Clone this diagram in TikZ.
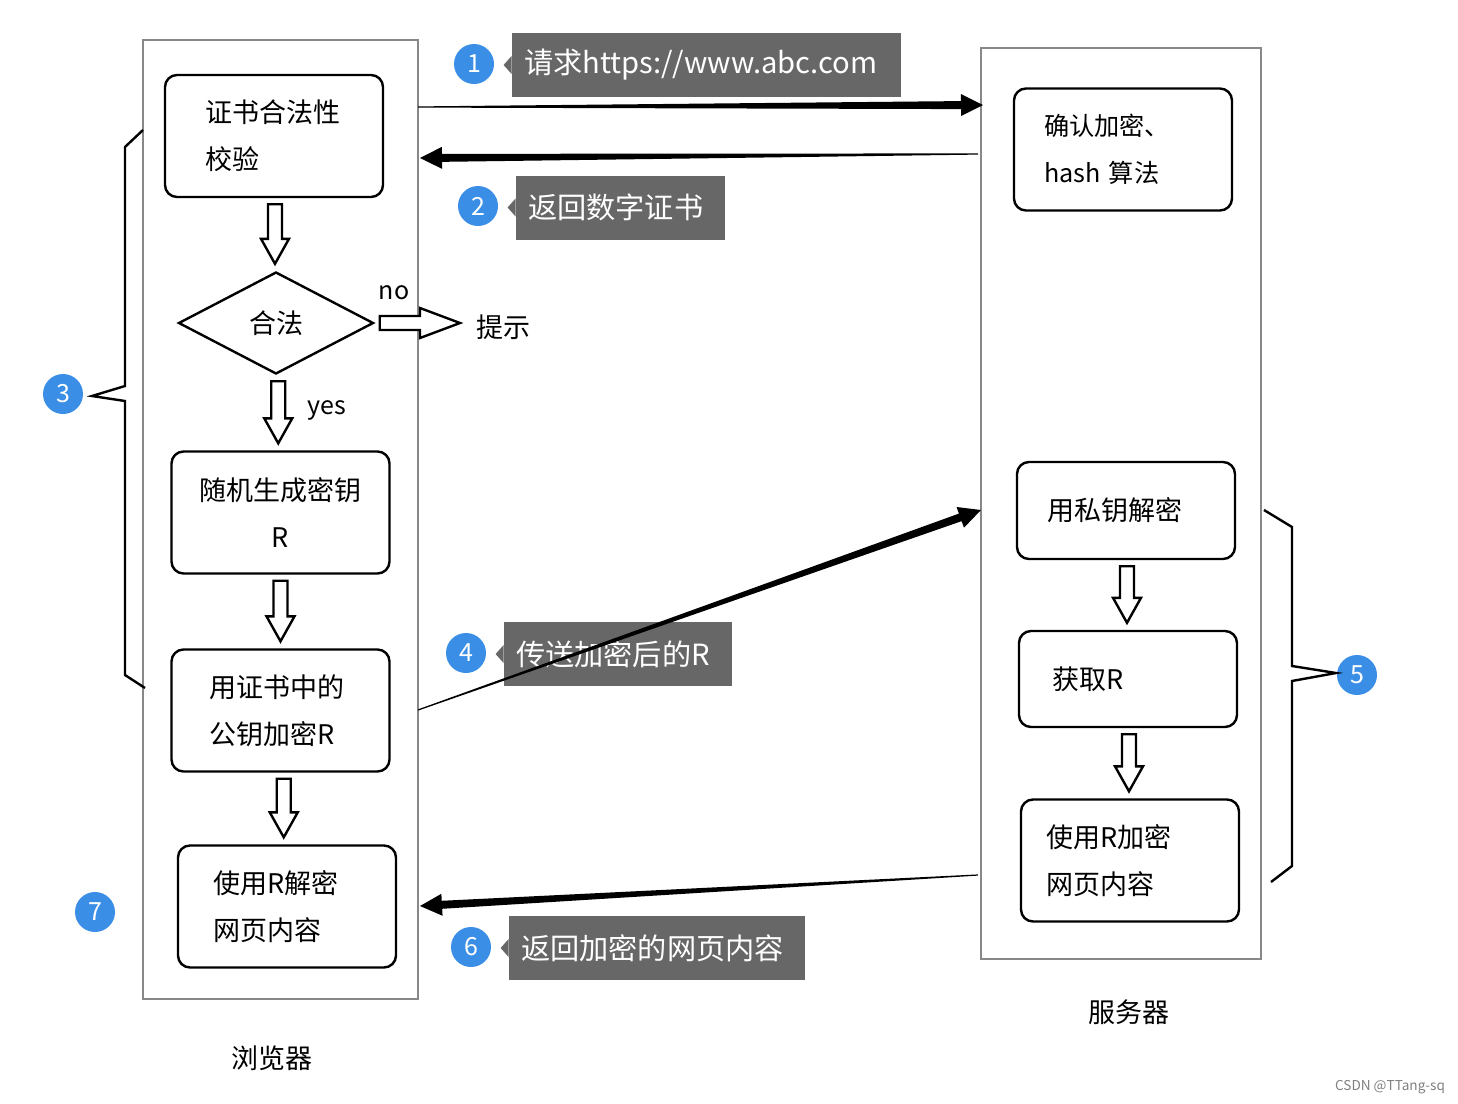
\documentclass[tikz,border=0pt]{standalone}
\usepackage{fontspec}
\setmainfont{Noto Sans CJK SC}
\usepackage{tikz}
\usetikzlibrary{calc}
\usetikzlibrary{shapes.geometric}

\definecolor{framegray}{RGB}{136,136,136}
\definecolor{taggray}{RGB}{103,103,103}
\definecolor{badgeblue}{RGB}{58,142,230}

\newcommand\taperline[2]{%
  \coordinate (tp) at ($(#2)!11pt!(#1)$);
  \fill ($(#1)!0.3pt!90:(#2)$) -- ($(tp)!2pt!-90:(#1)$) -- ($(tp)!5.5pt!-90:(#1)$) -- (#2)
    -- ($(tp)!5.5pt!90:(#1)$) -- ($(tp)!2pt!90:(#1)$) -- ($(#1)!0.3pt!-90:(#2)$) -- cycle;}
\newcommand\blockdown[2]{%
  \draw[hollow] let \p1=(#1), \p2=(#2) in
    (0.5*\x1+0.5*\x2-3.5pt,\y1-3pt) -- (0.5*\x1+0.5*\x2-3.5pt,\y2+16pt) -- (0.5*\x1+0.5*\x2-7pt,\y2+16pt)
    -- (0.5*\x1+0.5*\x2,\y2+3.5pt) -- (0.5*\x1+0.5*\x2+7pt,\y2+16pt) -- (0.5*\x1+0.5*\x2+3.5pt,\y2+16pt)
    -- (0.5*\x1+0.5*\x2+3.5pt,\y1-3pt) -- cycle;}
\newcommand\blockright[2]{%
  \draw[hollow] let \p1=(#1), \p2=(#2) in
    (\x1+2.5pt,\y1+3.5pt) -- (\x2-28pt,\y1+3.5pt) -- (\x2-28pt,\y1+7.5pt) -- (\x2-8pt,\y1)
    -- (\x2-28pt,\y1-7.5pt) -- (\x2-28pt,\y1-3.5pt) -- (\x1+2.5pt,\y1-3.5pt) -- cycle;}

\begin{document}
\begin{tikzpicture}[x=0.5pt, y=-0.5pt,
    frame/.style={draw=framegray, line width=1.25pt, inner sep=0pt},
    box/.style 2 args={draw, line width=1.2pt, rounded corners=6pt, minimum height=61pt, align=left,
      inner xsep=#1, text width=#2, font=\fontsize{13.5}{23.5}\selectfont},
    check/.style={diamond, draw, line width=1.2pt, minimum width=97.5pt, minimum height=51pt, inner sep=0pt,
      font=\fontsize{13.5}{16}\selectfont},
    hollow/.style={draw, line width=1.2pt, fill=white, line join=miter},
    badge/.style={circle, fill=badgeblue, text=white, minimum size=20pt, inner sep=0pt, font=\fontsize{12.5}{13}\selectfont},
    tag/.style={fill=taggray, text=white, minimum height=32pt, inner ysep=0pt, inner xsep=6pt, align=left,
      font=\fontsize{14.6}{16}\selectfont},
    plain/.style={inner sep=0pt, font=\fontsize{13.5}{16}\selectfont},
    brace/.style={line width=1.2pt, line join=miter}]

        \useasboundingbox (0, 0) rectangle (1458, 1104);

        \node (bframe) [frame, minimum width=137.5pt, minimum height=479.5pt] at (280.5, 519.5) {};
        \node (sframe) [frame, minimum width=140pt, minimum height=455.5pt] at (1121, 503.5) {};

        \node (b1) [box={20pt}{69pt}] at (274, 136) {证书合法性\\校验};
        \node (ok) [check] at (276, 323) {合法};
        \node (b2) [box={10pt}{89pt}, align=center] at (280.5, 512.5) {随机生成密钥\\R};
        \node (b3) [box={19pt}{71pt}] at (280.5, 710.5) {用证书中的\\公钥加密R};
        \node (b4) [box={17.5pt}{74pt}] at (287, 906.5) {使用R解密\\网页内容};

        \node (s1) [box={15pt}{79pt}, font=\fontsize{12.6}{23.5}\selectfont] at (1123, 149.5) {确认加密、\\hash 算法};
        \node (s2) [box={15pt}{79pt}, minimum height=48.5pt] at (1126, 510.5) {用私钥解密};
        \node (s3) [box={16.5pt}{76pt}, minimum height=48pt] at (1128, 679) {获取R};
        \node (s4) [box={12.5pt}{84pt}] at (1130, 860.5) {使用R加密\\网页内容};

        \node (hint) [plain, anchor=west] at (476, 327) {提示};
        \node (no) [plain, font=\fontsize{12.5}{14}\selectfont] at (394, 293) {no};
        \node (yes) [plain, font=\fontsize{12.5}{14}\selectfont] at (327, 410) {yes};
        \node (browser) [plain] at (272, 1058) {浏览器};
        \node (server) [plain] at (1129, 1012) {服务器};
        \node (mark) [inner sep=0pt, text=gray, font=\fontsize{6.8}{8}\selectfont] at (1390, 1087) {CSDN @TTang-sq};

        \node (t1) [tag, text width=182.5pt] at (706.5, 65) {请求https://www.abc.com};
        \node (t2) [tag, text width=92.5pt] at (620.5, 207.5) {返回数字证书};
        \node (t4) [tag, text width=102pt] at (618, 654) {传送加密后的R};
        \node (t6) [tag, text width=136pt] at (657, 948) {返回加密的网页内容};
        \foreach \t in {t1, t2, t4, t6}
          \fill[taggray] ($(\t.west)+(0,-4.5pt)$) -- ($(\t.west)+(-4pt,0)$) -- ($(\t.west)+(0,4.5pt)$) -- cycle;

        \node (n1) [badge] at (474, 64) {1};
        \node (n2) [badge] at (478, 206) {2};
        \node (n3) [badge] at (63, 394) {3};
        \node (n4) [badge] at (466, 653) {4};
        \node (n5) [badge] at (1357, 675) {5};
        \node (n6) [badge] at (471, 947) {6};
        \node (n7) [badge] at (95, 912) {7};

        \blockdown{b1.south}{ok.north}
        \blockdown{ok.south}{b2.north}
        \blockdown{b2.south}{b3.north}
        \blockdown{b3.south}{b4.north}
        \blockdown{s2.south}{s3.north}
        \blockdown{s3.south}{s4.north}
        \blockright{ok.east}{hint.west}

        \coordinate (req0) at (418, 107);
        \coordinate (req1) at (983, 105);
        \coordinate (cert0) at (978, 154);
        \coordinate (cert1) at (420, 158);
        \coordinate (key0) at (418, 710);
        \coordinate (key1) at (981, 510);
        \coordinate (page0) at (978, 875);
        \coordinate (page1) at (420, 906);

        \taperline{req0}{req1}
        \taperline{cert0}{cert1}
        \taperline{key0}{key1}
        \taperline{page0}{page1}

        \draw[brace] (143, 130) -- (125, 147) -- (125, 386) -- (92, 396) -- (125, 401) -- (125, 675) -- (145, 688);
        \draw[brace] (1264, 510) -- (1292, 527) -- (1292, 666) -- (1336, 673) -- (1292, 681) -- (1292, 866) -- (1271, 882);
      \end{tikzpicture}
\end{document}
